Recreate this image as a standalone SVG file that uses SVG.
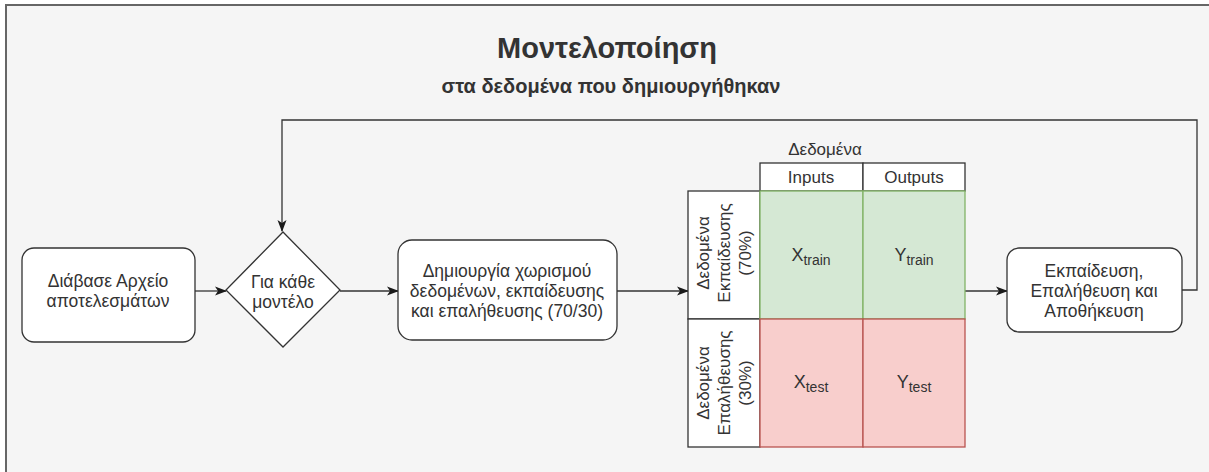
<svg xmlns="http://www.w3.org/2000/svg" width="1209" height="472" viewBox="0 0 1209 472">
<defs>
<style>
.t{font-family:"Liberation Sans",Arial,sans-serif;fill:#333333;text-anchor:middle}
.n{font-size:17.5px}
.s{font-size:17px}
.box{fill:#ffffff;stroke:#333333;stroke-width:1.3}
.edge{fill:none;stroke:#333333;stroke-width:1.3}
.g{fill:#d5e8d4;stroke:#82b366;stroke-width:1.3}
.r{fill:#f8cecc;stroke:#b85450;stroke-width:1.3}
.h{fill:#ffffff;stroke:#333333;stroke-width:1.3}
.v{font-size:18px}
.sub{font-size:14px}
</style>
<marker id="arr" viewBox="0 0 12 10" refX="11" refY="5" markerWidth="12" markerHeight="10" markerUnits="userSpaceOnUse" orient="auto">
<path d="M0,0.5 L12,5 L0,9.5 L3,5 Z" fill="#1a1a1a"/>
</marker>
</defs>
<rect x="0" y="0" width="1209" height="472" fill="#ffffff"/>
<rect x="6" y="5" width="1220" height="480" fill="#f5f5f5" stroke="#666666" stroke-width="2"/>

<g id="title">
<text class="t" x="607" y="58" style="font-size:29px;font-weight:bold">Μοντελοποίηση</text>
<text class="t" x="611" y="93" style="font-size:20px;font-weight:bold">στα δεδομένα που δημιουργήθηκαν</text>
</g>

<g id="connectors">
<line class="edge" x1="195" y1="291" x2="226" y2="291" marker-end="url(#arr)"/>
<line class="edge" x1="340" y1="291" x2="398" y2="291" marker-end="url(#arr)"/>
<line class="edge" x1="617" y1="291" x2="688" y2="291" marker-end="url(#arr)"/>
<line class="edge" x1="965" y1="291" x2="1007" y2="291" marker-end="url(#arr)"/>
<polyline class="edge" points="1182,290 1197,290 1197,120 282,120 282,231" marker-end="url(#arr)"/>
</g>

<g id="read">
<rect class="box" x="22" y="248" width="173" height="94" rx="12"/>
<text class="t n" x="108" y="287">Διάβασε Αρχείο</text>
<text class="t n" x="108" y="307">αποτελεσμάτων</text>
</g>

<g id="foreach">
<polygon class="box" points="283,232 340,290 283,347 226,290"/>
<text class="t n" x="283" y="288">Για κάθε</text>
<text class="t n" x="283" y="308">μοντέλο</text>
</g>

<g id="split">
<rect class="box" x="398" y="240" width="219" height="100" rx="14"/>
<text class="t n" x="507" y="277">Δημιουργία χωρισμού</text>
<text class="t n" x="507" y="297">δεδομένων, εκπαίδευσης</text>
<text class="t n" x="507" y="317">και επαλήθευσης (70/30)</text>
</g>

<g id="table">
<text class="t s" x="825" y="155">Δεδομένα</text>
<rect class="h" x="760" y="163" width="103" height="28"/>
<rect class="h" x="863" y="163" width="102" height="28"/>
<text class="t s" x="811" y="183">Inputs</text>
<text class="t s" x="914" y="183">Outputs</text>
<rect class="h" x="688" y="191" width="72" height="128"/>
<rect class="h" x="688" y="319" width="72" height="128"/>
<rect class="g" x="760" y="191" width="103" height="128"/>
<rect class="g" x="863" y="191" width="102" height="128"/>
<rect class="r" x="760" y="319" width="103" height="128"/>
<rect class="r" x="863" y="319" width="102" height="128"/>
<g transform="translate(724,253) rotate(-90)">
<text class="t s" x="0" y="-15">Δεδομένα</text>
<text class="t s" x="0" y="6">Εκπαίδευσης</text>
<text class="t s" x="0" y="27">(70%)</text>
</g>
<g transform="translate(724,383) rotate(-90)">
<text class="t s" x="0" y="-15">Δεδομένα</text>
<text class="t s" x="0" y="6">Επαλήθευσης</text>
<text class="t s" x="0" y="27">(30%)</text>
</g>
<text class="t v" x="811" y="261">X<tspan class="sub" dy="4">train</tspan></text>
<text class="t v" x="914" y="261">Y<tspan class="sub" dy="4">train</tspan></text>
<text class="t v" x="811" y="388">X<tspan class="sub" dy="4">test</tspan></text>
<text class="t v" x="914" y="388">Y<tspan class="sub" dy="4">test</tspan></text>
</g>

<g id="train">
<rect class="box" x="1007" y="248" width="175" height="84" rx="12"/>
<text class="t n" x="1094" y="277">Εκπαίδευση,</text>
<text class="t n" x="1094" y="297">Επαλήθευση και</text>
<text class="t n" x="1094" y="317">Αποθήκευση</text>
</g>
</svg>
